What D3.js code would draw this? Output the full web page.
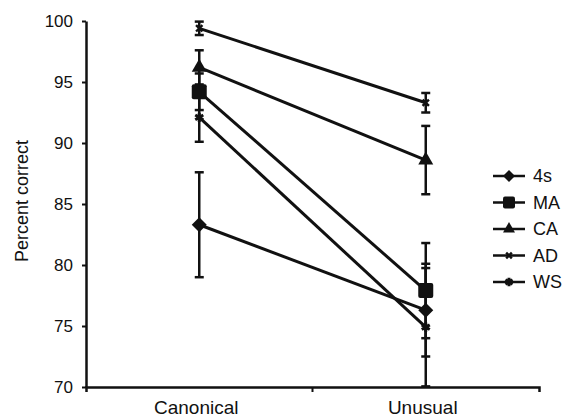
<!DOCTYPE html>
<html><head><meta charset="utf-8">
<script src="https://cdn.jsdelivr.net/npm/d3@7"></script>
<style>body{margin:0;background:#fff;} text{font-family:"Liberation Sans",Arial,sans-serif;fill:#111;}</style>
</head><body>
<svg id="c" width="572" height="417"></svg>
<script>
const categories = ["Canonical", "Unusual"];
const seriesNames = ["4s", "MA", "CA", "AD", "WS"];
const values4s = [83.3, 76.3];
const valuesMA = [94.2, 77.9];
const valuesCA = [96.2, 88.6];
const valuesAD = [99.4, 93.3];
const valuesWS = [92.1, 74.9];
const err4s = [4.3, 3.8];
const errMA = [1.5, 3.9];
const errCA = [1.4, 2.8];
const errAD = [0.55, 0.8];
const errWS = [2.0, 4.85];
const yTicks = [70, 75, 80, 85, 90, 95, 100];

const shapes = ["diamond", "square", "triangle", "times", "star"];
const allVals = [values4s, valuesMA, valuesCA, valuesAD, valuesWS];
const allErr = [err4s, errMA, errCA, errAD, errWS];
const series = seriesNames.map((n, i) => ({name: n, vals: allVals[i], err: allErr[i], shape: shapes[i]}));

const svg = d3.select("#c");
const x = d3.scaleBand().domain(categories).range([86, 539]).padding(0);
const y = d3.scaleLinear().domain([70, 100]).range([387, 21]);
const cx = c => x(c) + x.bandwidth() / 2;

function shapePath(shape, s) {
  const h = s / 2;
  if (shape === "diamond") return `M0,${-h}L${h},0L0,${h}L${-h},0Z`;
  if (shape === "square") return `M${-h+2},${-h}H${h-2}Q${h},${-h} ${h},${-h+2}V${h-2}Q${h},${h} ${h-2},${h}H${-h+2}Q${-h},${h} ${-h},${h-2}V${-h+2}Q${-h},${-h} ${-h+2},${-h}Z`;
  if (shape === "triangle") { const th = s * 0.87; return `M0,${-th*2/3}L${h},${th/3}L${-h},${th/3}Z`; }
  return null;
}

function drawMarker(g, shape, px, py, s) {
  if (shape === "times") {
    g.append("path").attr("transform", `translate(${px},${py})`)
      .attr("d", d3.symbol().type(d3.symbolTimes).size(s * s * 0.28)())
      .attr("fill", "none").attr("stroke", "#111").attr("stroke-width", 2.4);
  } else if (shape === "star") {
    g.append("path").attr("transform", `translate(${px},${py})`)
      .attr("d", d3.symbol().type(d3.symbolAsterisk).size(s * s * 0.6)())
      .attr("fill", "none").attr("stroke", "#111").attr("stroke-width", 3);
  } else {
    g.append("path").attr("transform", `translate(${px},${py})`)
      .attr("d", shapePath(shape, s)).attr("fill", "#111");
  }
}

// axes
const yAxis = svg.append("g").attr("transform", "translate(86,0)")
  .call(d3.axisLeft(y).tickValues(yTicks).tickSize(4).tickSizeOuter(0).tickPadding(9));
yAxis.selectAll("text").style("font-size", "17px");
const xAxis = svg.append("g").attr("transform", "translate(0,387)")
  .call(d3.axisBottom(x).tickSize(0).tickSizeOuter(5).tickPadding(14));
xAxis.selectAll("text").style("font-size", "19px").attr("dx", "-3");
xAxis.append("line").attr("x1", x("Unusual")).attr("x2", x("Unusual"))
  .attr("y1", 0).attr("y2", 5).attr("stroke", "#111").attr("stroke-width", 2);
svg.selectAll(".domain").attr("stroke", "#111").attr("stroke-width", 2.5);
svg.selectAll(".tick line").attr("stroke", "#111").attr("stroke-width", 2);

svg.append("text").attr("transform", `translate(28,${(y(70)+y(100))/2 - 3}) rotate(-90)`)
  .attr("text-anchor", "middle").style("font-size", "18px").text("Percent correct");

const plot = svg.append("g");
// lines
series.forEach(s => {
  plot.append("path")
    .attr("d", d3.line().x((v, i) => cx(categories[i])).y(v => y(v))(s.vals))
    .attr("fill", "none").attr("stroke", "#111").attr("stroke-width", 3);
});
// error bars
series.forEach(s => {
  s.vals.forEach((v, i) => {
    const px = cx(categories[i]);
    const lo = Math.max(70, v - s.err[i]), hi = v + s.err[i];
    plot.append("line").attr("x1", px).attr("x2", px).attr("y1", y(lo)).attr("y2", y(hi))
      .attr("stroke", "#111").attr("stroke-width", 2.5);
    [lo, hi].forEach(e => plot.append("line").attr("x1", px - 4.5).attr("x2", px + 4.5)
      .attr("y1", y(e)).attr("y2", y(e)).attr("stroke", "#111").attr("stroke-width", 2.5));
  });
});
// markers
series.forEach(s => {
  s.vals.forEach((v, i) => drawMarker(plot, s.shape, cx(categories[i]), y(v), s.shape === "times" || s.shape === "star" ? 10 : 15));
});

// legend
const legend = svg.append("g");
series.forEach((s, i) => {
  const ly = 176 + i * 26.5;
  legend.append("line").attr("x1", 493).attr("x2", 525).attr("y1", ly).attr("y2", ly)
    .attr("stroke", "#111").attr("stroke-width", 2.5);
  drawMarker(legend, s.shape, 509, ly, s.shape === "times" || s.shape === "star" ? 9 : 12);
  legend.append("text").attr("x", 533).attr("y", ly).attr("dy", "0.35em")
    .style("font-size", "18px").text(s.name);
});
</script>
</body></html>
